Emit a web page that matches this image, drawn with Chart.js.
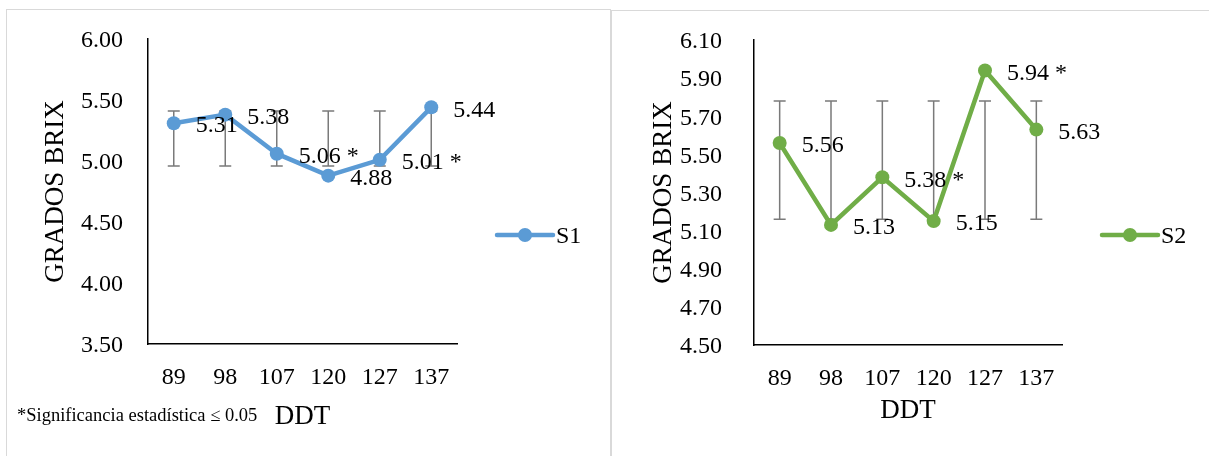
<!DOCTYPE html>
<html>
<head>
<meta charset="utf-8">
<script src="https://cdn.jsdelivr.net/npm/chart.js@4.4.1/dist/chart.umd.min.js"></script>
<style>
    body { margin: 0; background: #fff; width: 1209px; height: 456px; overflow: hidden; position: relative; }
    .panel { position: absolute; border: 1.5px solid #d9d9d9; background: #fff; }
    canvas { position: absolute; top: 0; }
    .note { position: absolute; left: 17px; top: 405px; font: 18.5px "Liberation Serif", serif; line-height: 20px; color: #000; white-space: nowrap; }
</style>
</head>
<body>
<div class="panel" style="left:6px; top:9px; width:603px; height:470px;"></div>
<div class="panel" style="left:611px; top:10px; width:620px; height:470px;"></div>
<canvas id="chart1" width="610" height="456" style="left:0px;"></canvas>
<canvas id="chart2" width="599" height="456" style="left:610px;"></canvas>
<div class="note">*Significancia estadística ≤ 0.05</div>
<script>
const categories = ["89", "98", "107", "120", "127", "137"];

const s1Values = [5.31, 5.38, 5.06, 4.88, 5.01, 5.44];
const s1Significant = [false, false, true, false, true, false];
const s1ErrLow = [4.96, 4.96, 4.96, 4.96, 4.96, 4.96];
const s1ErrHigh = [5.41, 5.41, 5.41, 5.41, 5.41, 5.41];
const s1Ticks = { min: 3.5, max: 6.0, step: 0.5 };

const s2Values = [5.56, 5.13, 5.38, 5.15, 5.94, 5.63];
const s2Significant = [false, false, true, false, true, false];
const s2ErrLow = [5.16, 5.16, 5.16, 5.16, 5.16, 5.16];
const s2ErrHigh = [5.78, 5.78, 5.78, 5.78, 5.78, 5.78];
const s2Ticks = { min: 4.5, max: 6.1, step: 0.2 };

const serif = "'Liberation Serif', 'Times New Roman', serif";

// error bars behind the line, value labels + legend on top
const extrasPlugin = {
    id: "extras",
    beforeDatasetsDraw(chart, args, opts) {
        const ctx = chart.ctx;
        const x = chart.scales.x, y = chart.scales.y;
        ctx.save();
        ctx.strokeStyle = "#7a7a7a";
        ctx.lineWidth = 1.5;
        opts.errLow.forEach((lo, i) => {
            let px = x.getPixelForValue(i);
            let yl = y.getPixelForValue(lo), yh = y.getPixelForValue(opts.errHigh[i]);
            ctx.beginPath();
            ctx.moveTo(px, yl); ctx.lineTo(px, yh);
            ctx.moveTo(px - 6, yl); ctx.lineTo(px + 6, yl);
            ctx.moveTo(px - 6, yh); ctx.lineTo(px + 6, yh);
            ctx.stroke();
        });
        ctx.restore();
    },
    afterDatasetsDraw(chart, args, opts) {
        const ctx = chart.ctx;
        const meta = chart.getDatasetMeta(0);
        const ds = chart.data.datasets[0];
        ctx.save();
        ctx.font = "24px " + serif;
        ctx.fillStyle = "#000";
        ctx.textAlign = "left";
        ctx.textBaseline = "middle";
        meta.data.forEach((pt, i) => {
            let txt = ds.data[i].toFixed(2) + (opts.significant[i] ? " *" : "");
            ctx.fillText(txt, pt.x + 22, pt.y + 3);
        });

        // legend: line with a marker, then the series name
        let lx = opts.legendX, ly = 235;
        ctx.strokeStyle = ds.borderColor;
        ctx.lineWidth = 4.5;
        ctx.lineCap = "round";
        ctx.beginPath();
        ctx.moveTo(lx, ly); ctx.lineTo(lx + 56, ly);
        ctx.stroke();
        ctx.fillStyle = ds.borderColor;
        ctx.beginPath();
        ctx.arc(lx + 28, ly, 7, 0, Math.PI * 2);
        ctx.fill();
        ctx.fillStyle = "#000";
        ctx.fillText(ds.label, lx + 59, ly + 2);
        ctx.restore();
    }
};

function makeChart(id, label, color, values, significant, errLow, errHigh, ticks, layout) {
    return new Chart(document.getElementById(id), {
        type: "line",
        data: {
            labels: categories,
            datasets: [{
                label: label,
                data: values,
                borderColor: color,
                backgroundColor: color,
                borderWidth: 4.5,
                pointRadius: 7,
                pointHoverRadius: 7,
                pointBorderWidth: 0,
                tension: 0,
                fill: false,
            }]
        },
        options: {
            responsive: false,
            animation: false,
            events: [],
            layout: { padding: { left: 0, top: layout.top, right: layout.right, bottom: 0 } },
            plugins: {
                legend: { display: false },
                tooltip: { enabled: false },
                extras: { significant: significant, errLow: errLow, errHigh: errHigh, legendX: layout.legendX },
            },
            scales: {
                x: {
                    offset: true,
                    grid: { display: false, drawTicks: false },
                    border: { display: true, color: "#000", width: 1.5 },
                    ticks: { color: "#000", font: { family: serif, size: 24 }, padding: 19, maxRotation: 0, autoSkip: false },
                    title: { display: true, text: "DDT", color: "#000", font: { family: serif, size: 27 }, padding: { top: 0, bottom: layout.titleBottom } },
                    afterFit: (scale) => {
                        scale.height = 456 - layout.bottom;
                        scale.paddingLeft = 0; scale.paddingRight = 0;
                    },
                },
                y: {
                    min: ticks.min,
                    max: ticks.max,
                    grid: { display: false, drawTicks: false },
                    border: { display: true, color: "#000", width: 1.5 },
                    ticks: {
                        stepSize: ticks.step,
                        color: "#000",
                        font: { family: serif, size: 24 },
                        padding: layout.tickPad,
                        labelOffset: 2,
                        callback: (v) => Number(v).toFixed(2),
                    },
                    title: { display: true, text: "GRADOS BRIX", color: "#000", font: { family: serif, size: 27 }, padding: { top: layout.titleLeft, bottom: 0 } },
                    afterFit: (scale) => {
                        scale.width = layout.axisX;
                        scale.paddingTop = 0; scale.paddingBottom = 0;
                    },
                }
            }
        },
        plugins: [extrasPlugin]
    });
}

makeChart("chart1", "S1", "#5b9bd5", s1Values, s1Significant, s1ErrLow, s1ErrHigh, s1Ticks,
    { top: 39, bottom: 344, right: 153, axisX: 148, tickPad: 25, titleLeft: 40, titleBottom: 23, legendX: 497 });
makeChart("chart2", "S2", "#70ad47", s2Values, s2Significant, s2ErrLow, s2ErrHigh, s2Ticks,
    { top: 40, bottom: 345, right: 147, axisX: 144, tickPad: 32, titleLeft: 38, titleBottom: 29, legendX: 492 });
</script>
</body>
</html>
